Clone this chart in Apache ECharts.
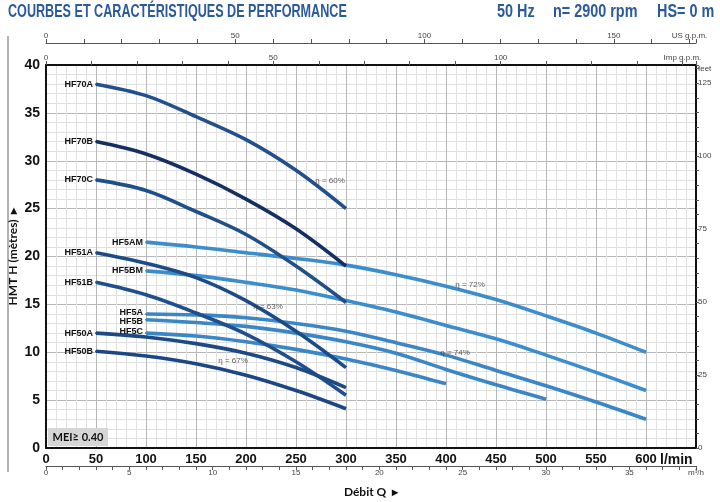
<!DOCTYPE html>
<html>
<head>
<meta charset="utf-8">
<script src="https://cdn.jsdelivr.net/npm/echarts@6/dist/echarts.min.js"></script>
<style>
  html, body { margin: 0; padding: 0; background: #fff; }
  #main { width: 720px; height: 502px; }
</style>
</head>
<body>
<div id="main"></div>
<script>
    // courbes [débit l/min, HMT m]
    const HF70A = [[50, 38], [100, 36.8], [150, 34.6], [200, 32.2], [250, 29], [300, 25]];
    const HF70B = [[50, 32], [100, 30.7], [150, 28.6], [200, 26], [250, 22.9], [300, 19]];
    const HF70C = [[50, 28], [100, 26.9], [150, 24.7], [200, 22.3], [250, 19], [300, 15.2]];
    const HF51A = [[50, 20.4], [100, 19.3], [150, 17.8], [200, 15.4], [250, 12.2], [300, 8.4]];
    const HF51B = [[50, 17.3], [100, 16], [150, 14.1], [200, 11.9], [250, 9], [300, 5.5]];
    const HF50A = [[50, 12], [100, 11.6], [150, 10.9], [200, 9.9], [250, 8.4], [300, 6.3]];
    const HF50B = [[50, 10.1], [100, 9.6], [150, 8.8], [200, 7.6], [250, 6], [300, 4.1]];
    const HF5AM = [[100, 21.5], [150, 21], [200, 20.4], [250, 19.8], [300, 19.1], [350, 18.1], [400, 16.9], [450, 15.5], [500, 13.8], [550, 12], [600, 10]];
    const HF5BM = [[100, 18.5], [150, 18], [200, 17.3], [250, 16.5], [300, 15.4], [350, 14.2], [400, 12.8], [450, 11.4], [500, 9.7], [550, 7.9], [600, 6]];
    const HF5A = [[100, 14], [150, 13.9], [200, 13.6], [250, 13], [300, 12.2], [350, 11], [400, 9.7], [450, 8.1], [500, 6.5], [550, 4.8], [600, 3]];
    const HF5B = [[100, 13.4], [150, 13.1], [200, 12.7], [250, 12], [300, 11.1], [350, 9.9], [400, 8.2], [450, 6.6], [500, 5.1]];
    const HF5C = [[100, 12], [150, 11.7], [200, 11.1], [250, 10.3], [300, 9.3], [350, 8.1], [400, 6.7]];

    // rendements
    const etaLabels = ['η = 60%', 'η = 72%', 'η = 63%', 'η = 74%', 'η = 67%'];
    const etaPos = [[284, 27.9], [424, 17], [222, 14.7], [409, 9.9], [187, 9.1]];

    const curves = [
        {name: 'HF5AM', data: HF5AM, color: '#3b8dce'},
        {name: 'HF5BM', data: HF5BM, color: '#3b8dce'},
        {name: 'HF5A', data: HF5A, color: '#3a86c7', dy: -1.5},
        {name: 'HF5B', data: HF5B, color: '#3a86c7', dy: 1.5},
        {name: 'HF5C', data: HF5C, color: '#3a86c7', dy: -2},
        {name: 'HF70A', data: HF70A, color: '#21508a'},
        {name: 'HF70B', data: HF70B, color: '#162f63'},
        {name: 'HF70C', data: HF70C, color: '#20508a'},
        {name: 'HF51A', data: HF51A, color: '#1d4b86'},
        {name: 'HF51B', data: HF51B, color: '#1f4f8c'},
        {name: 'HF50A', data: HF50A, color: '#1d4a85'},
        {name: 'HF50B', data: HF50B, color: '#1c4784'}
    ];

    const LPM_MAX = 650;
    const sans = '"Liberation Sans", Arial, sans-serif';
    const smallLbl = {fontFamily: sans, fontSize: 8, color: '#444'};
    const headStyle = {fontFamily: sans, fontWeight: 'bold', fontSize: 18, fill: '#2a5a9a'};

    // textes d'en-tête (police condensée simulée)
    function headText(txt, x, sx) {
        return {
            type: 'text', x: x, y: 3, scaleX: sx, z: 10,
            style: Object.assign({text: txt, align: 'left', verticalAlign: 'top'}, headStyle)
        };
    }

    let series = curves.map(c => ({
        name: c.name,
        type: 'line',
        xAxisIndex: 0,
        yAxisIndex: 0,
        smooth: 0.35,
        showSymbol: true,
        symbol: 'circle',
        symbolSize: (v, p) => p.dataIndex === 0 ? 2 : 0,
        itemStyle: {color: c.color},
        lineStyle: {color: c.color, width: 3.6},
        emphasis: {disabled: true},
        z: 3,
        data: c.data.map((d, i) => i === 0 ? {
            value: d,
            label: {
                show: true, position: 'left', distance: 2, offset: [0, c.dy || 0],
                formatter: c.name, fontFamily: sans, fontWeight: 'bold',
                fontSize: 9, color: '#111'
            }
        } : {value: d})
    }));

    series.push({
        type: 'scatter',
        xAxisIndex: 0,
        yAxisIndex: 0,
        symbolSize: 1,
        itemStyle: {color: 'rgba(0,0,0,0)'},
        z: 5,
        label: {
            show: true, position: 'inside',
            formatter: p => p.name,
            fontFamily: sans, fontSize: 8, color: '#333'
        },
        data: etaPos.map((p, i) => ({name: etaLabels[i], value: p}))
    });

    let myChart = echarts.init(document.getElementById('main'), null, {renderer: 'canvas'});
    myChart.setOption({
        animation: false,
        backgroundColor: '#fff',
        grid: {left: 46, right: 24, top: 65, bottom: 54, containLabel: false, outerBoundsMode: 'none'},
        xAxis: [{
            // l/min
            type: 'value', position: 'bottom',
            min: 0, max: LPM_MAX, interval: 50,
            name: 'l/min', nameLocation: 'end', nameGap: -36, nameMoveOverlap: false,
            nameTextStyle: {fontFamily: sans, fontWeight: 'bold', fontSize: 14, color: '#111',
                verticalAlign: 'top', padding: [5, 0, 0, 0]},
            axisLine: {show: true, onZero: false, lineStyle: {color: '#111', width: 2}},
            axisTick: {show: false},
            axisLabel: {
                fontFamily: sans, fontWeight: 'bold', fontSize: 13, color: '#111', margin: 5,
                formatter: v => v >= LPM_MAX ? '' : v
            },
            splitLine: {show: true, lineStyle: {color: '#b8b8b8', width: 1}},
            minorTick: {show: false, splitNumber: 5},
            minorSplitLine: {show: true, lineStyle: {color: '#e0e0e0', width: 1}}
        }, {
            // US g.p.m.
            type: 'value', position: 'top', offset: 22,
            min: 0, max: LPM_MAX / 3.78541, interval: 10,
            axisLine: {show: true, onZero: false, lineStyle: {color: '#555', width: 1}},
            axisTick: {show: true, length: 4, lineStyle: {color: '#555'}},
            axisLabel: Object.assign({margin: 3,
                formatter: v => v % 50 === 0 ? v : (v === 170 ? 'US g.p.m.' : '')}, smallLbl),
            splitLine: {show: false}
        }, {
            // Imp g.p.m.
            type: 'value', position: 'top', offset: 0,
            min: 0, max: LPM_MAX / 4.54609, interval: 10,
            axisLine: {show: true, onZero: false, lineStyle: {color: '#111', width: 2}},
            axisTick: {show: true, length: 4, lineStyle: {color: '#555'}},
            axisLabel: Object.assign({margin: 3,
                formatter: v => v % 50 === 0 ? v : (v === 140 ? 'Imp g.p.m.' : '')}, smallLbl),
            splitLine: {show: false}
        }, {
            // m3/h
            type: 'value', position: 'bottom', offset: 18,
            min: 0, max: LPM_MAX * 0.06, interval: 1,
            name: 'Débit Q  ▸', nameLocation: 'middle', nameGap: 20, nameMoveOverlap: false,
            nameTextStyle: {fontFamily: 'Lato, "Liberation Sans", sans-serif', fontWeight: 'bold', fontSize: 12, color: '#111'},
            axisLine: {show: true, onZero: false, lineStyle: {color: '#555', width: 1}},
            axisTick: {show: true, length: 4, lineStyle: {color: '#555'}},
            axisLabel: Object.assign({margin: 3,
                formatter: v => v % 5 === 0 ? v : (v === 39 ? 'm³/h' : '')}, smallLbl),
            splitLine: {show: false}
        }],
        yAxis: [{
            // mètres
            type: 'value', position: 'left',
            min: 0, max: 40, interval: 5,
            name: 'HMT H (mètres)  ▸', nameLocation: 'middle', nameGap: 27, nameRotate: 90,
            nameMoveOverlap: false,
            nameTextStyle: {fontFamily: 'Lato, "Liberation Sans", sans-serif', fontWeight: 'bold', fontSize: 12, color: '#111'},
            axisLine: {show: true, onZero: false, lineStyle: {color: '#111', width: 2}},
            axisTick: {show: false},
            axisLabel: {fontFamily: sans, fontWeight: 'bold', fontSize: 14, color: '#111', margin: 6},
            splitLine: {show: true, lineStyle: {color: '#b8b8b8', width: 1}},
            minorSplitLine: {show: true, lineStyle: {color: '#e0e0e0', width: 1}},
            minorTick: {show: false, splitNumber: 5}
        }, {
            // feet
            type: 'value', position: 'right',
            min: 0, max: 40 / 0.3048, interval: 5,
            axisLine: {show: true, onZero: false, lineStyle: {color: '#111', width: 2}},
            axisTick: {show: true, length: 3, lineStyle: {color: '#555'}},
            axisLabel: Object.assign({margin: 2,
                formatter: v => v % 25 === 0 ? v : (v === 130 ? 'feet' : '')}, smallLbl),
            splitLine: {show: false}
        }],
        graphic: [
            headText('COURBES ET CARACTÉRISTIQUES DE PERFORMANCE', 8, 0.7),
            headText('50 Hz', 497, 0.8),
            headText('n= 2900 rpm', 553, 0.8),
            headText('HS= 0 m', 657, 0.8),
            {
                type: 'line', z: 10,
                shape: {x1: 8, y1: 36, x2: 8, y2: 472},
                style: {stroke: '#666', lineWidth: 1}
            }, {
                type: 'group', x: 48, y: 428, z: 10,
                children: [{
                    type: 'rect', z: 10, shape: {x: 0, y: 0, width: 60, height: 18},
                    style: {fill: '#d6d6d6'}
                }, {
                    type: 'text', z: 11, x: 30, y: 9,
                    style: {text: 'MEI≥ 0.40', fontFamily: 'Lato, "Liberation Sans", sans-serif', fontWeight: 'bold',
                        fontSize: 11, fill: '#111', align: 'center', verticalAlign: 'middle'}
                }]
            }],
        series: series
    });
</script>
</body>
</html>
